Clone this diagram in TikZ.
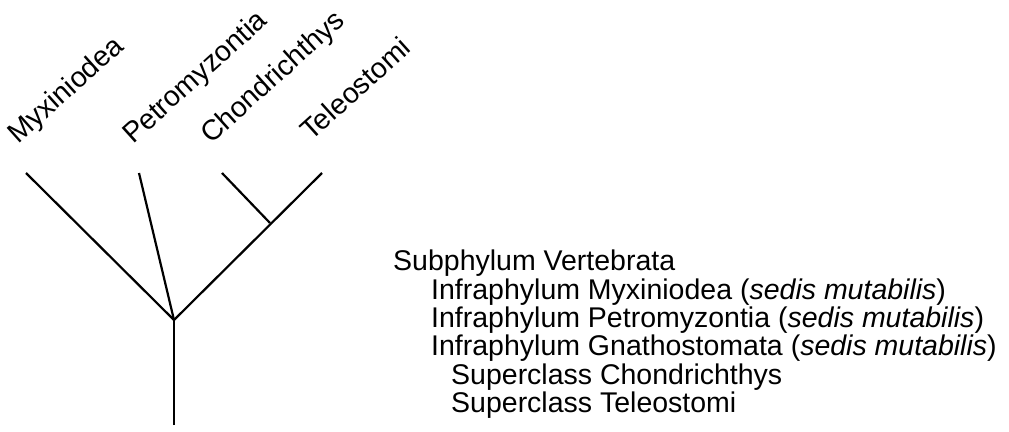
\documentclass[tikz,border=0pt]{standalone}
\usepackage{fontspec}
\setmainfont{Liberation Sans}
\begin{document}
\begin{tikzpicture}[x=1pt,y=-1pt,
  branch/.style={line width=2.2pt, line cap=butt},
  lab/.style={anchor=base west, inner sep=0pt, rotate=42, font=\fontsize{28.5}{32}\selectfont},
  txt/.style={anchor=base west, inner sep=0pt, font=\fontsize{28.5}{32}\selectfont}]
\useasboundingbox (0,0) rectangle (1009,431);
\coordinate (root) at (174,320);
\coordinate (bottom) at (174,425);
\coordinate (g) at (270,223);
\coordinate (myx) at (26,173);
\coordinate (pet) at (139,173);
\coordinate (cho) at (222,173);
\coordinate (tel) at (322,173);
\draw[branch] (bottom) -- (root);
\draw[branch] (root) -- (myx);
\draw[branch] (root) -- (pet);
\draw[branch] (root) -- (tel);
\draw[branch] (g) -- (cho);
\node[lab] (lmyx) at (18,145) {Myxiniodea};
\node[lab] (lpet) at (133,145) {Petromyzontia};
\node[lab] (lcho) at (211,145) {Chondrichthys};
\node[lab] (ltel) at (311,142) {Teleostomi};
\node[txt] (t1) at (393,270) {Subphylum Vertebrata};
\node[txt] (t2) at (431,299) {Infraphylum Myxiniodea (\textit{sedis mutabilis})};
\node[txt] (t3) at (431,327) {Infraphylum Petromyzontia (\textit{sedis mutabilis})};
\node[txt] (t4) at (431,355) {Infraphylum Gnathostomata (\textit{sedis mutabilis})};
\node[txt] (t5) at (451,384) {Superclass Chondrichthys};
\node[txt] (t6) at (451,412) {Superclass Teleostomi};
\end{tikzpicture}
\end{document}
